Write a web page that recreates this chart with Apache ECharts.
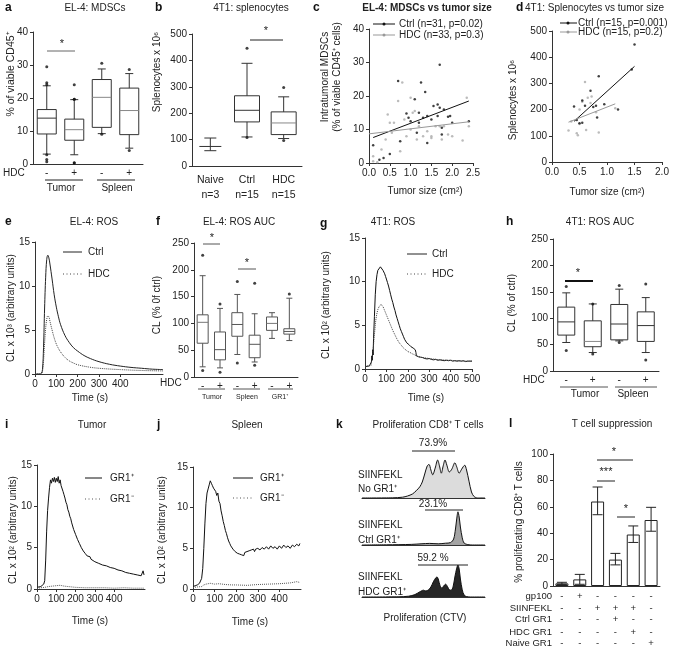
<!DOCTYPE html>
<html>
<head>
<meta charset="utf-8">
<title>Figure</title>
<script src="https://cdn.jsdelivr.net/npm/echarts@6.0.0/dist/echarts.min.js"></script>
<style>
html,body{margin:0;padding:0;background:#fff;}
#chart{width:685px;height:651px;}
</style>
</head>
<body>
<div id="chart"></div>
<script>
// ================= DATA =================
// a: EL-4 MDSCs  [min, Q1, median, Q3, max]
const aCategories = ['-', '+', '-', '+'];
const aBoxes = [[3.0, 9.1, 13.9, 16.5, 23.7], [2.8, 7.2, 10.4, 13.6, 19.5], [9.2, 11.1, 20.2, 25.6, 28.8], [4.8, 8.9, 16.2, 23.0, 27.4]];
const aOutliers = [[0, 29.5], [0, 24.6], [0, 24.0], [0, 2.8], [0, 1.4], [0, 0.7], [1, 24.0], [1, 19.6], [1, 19.6], [1, 0.4], [1, 0.3], [2, 30.5], [2, 9.0], [3, 28.6], [3, 4.1]];

// b: 4T1 splenocytes
const bCategories = ['Naive\nn=3', 'Ctrl\nn=15', 'HDC\nn=15'];
const bBoxes = [[58, 74, 74, 74, 106], [110, 167, 211, 266, 389], [104, 119, 163, 205, 262]];
const bOutliers = [[1, 446], [1, 108], [2, 297], [2, 97]];

// c: EL-4 MDSCs vs tumor size
const cCtrl = [[0.1, 5.3], [0.25, 1.0], [0.35, 1.5], [0.5, 2.7], [0.7, 24.5], [0.75, 6.5], [0.9, 14.8], [0.95, 13.5], [1.0, 12.5], [1.1, 19], [1.15, 9], [1.2, 12], [1.25, 24], [1.3, 13.5], [1.35, 21.2], [1.4, 6], [1.4, 14], [1.5, 13], [1.55, 17], [1.65, 17.5], [1.65, 14], [1.7, 29.3], [1.7, 16.5], [1.75, 10.5], [1.75, 8.5], [1.8, 16], [1.9, 13.8], [1.95, 14], [2.0, 12], [2.4, 12.5], [1.2, 15]];
const cHdc = [[0.1, 2], [0.1, 0.5], [0.2, 0.2], [0.3, 4], [0.45, 14.5], [0.5, 12], [0.55, 9], [0.6, 12], [0.7, 18.5], [0.75, 3.5], [0.8, 24], [0.85, 13], [0.9, 8], [1.0, 19.5], [1.0, 10], [1.05, 15], [1.15, 7], [1.2, 11], [1.3, 8], [1.4, 9.5], [1.5, 7.5], [1.5, 8], [1.6, 11], [1.7, 11], [1.75, 7], [1.8, 11], [1.9, 8.5], [2.0, 8], [2.25, 6.7], [2.35, 19.5], [2.4, 11], [0.4, 7], [1.1, 15.5]];
const cCtrlFit = [[0.1, 7.6], [2.4, 18.5]];
const cHdcFit = [[0.0, 8.7], [2.4, 12.3]];

// d: 4T1 splenocytes vs tumor size
const dCtrl = [[0.4, 212], [0.45, 160], [0.5, 148], [0.55, 235], [0.55, 150], [0.6, 215], [0.7, 272], [0.75, 210], [0.8, 215], [0.85, 327], [0.82, 170], [0.95, 220], [1.2, 200], [1.45, 353], [1.5, 448]];
const dHdc = [[0.3, 120], [0.35, 155], [0.45, 110], [0.47, 102], [0.5, 200], [0.55, 230], [0.6, 305], [0.62, 122], [0.65, 245], [0.7, 225], [0.8, 190], [0.85, 113], [1.15, 205], [0.5, 145], [0.72, 250]];
const dCtrlFit = [[0.4, 155], [1.5, 365]];
const dHdcFit = [[0.3, 152], [1.15, 222]];

// e: EL-4 ROS (CL x 10^3)
const eCtrl = [[0, 0], [20, 0], [30, 0.1], [35, 0.5], [40, 3], [45, 7.5], [50, 11], [55, 13], [60, 13.5], [65, 13.2], [70, 12.5], [80, 10.8], [90, 9], [100, 7.6], [110, 6.5], [120, 5.6], [140, 4.4], [160, 3.6], [180, 3.0], [200, 2.6], [230, 2.1], [260, 1.75], [300, 1.4], [350, 1.1], [400, 0.9], [450, 0.75], [500, 0.65], [550, 0.55], [600, 0.5]];
const eHdc = [[0, 0], [30, 0], [35, 0.3], [40, 1.5], [45, 3.5], [50, 5.2], [55, 6.2], [60, 6.6], [65, 6.5], [70, 6.0], [80, 5.0], [90, 4.1], [100, 3.4], [110, 2.9], [120, 2.5], [140, 1.9], [160, 1.5], [180, 1.25], [200, 1.05], [250, 0.8], [300, 0.65], [400, 0.5], [500, 0.4], [600, 0.35]];

// f: EL-4 ROS AUC
const fCategories = ['-', '+', '-', '+', '-', '+'];
const fBoxes = [[19, 63, 102, 116, 189], [17, 32, 51, 84, 128], [42, 76, 98, 120, 154], [28, 36, 61, 78, 118], [72, 87, 100, 112, 120], [68, 80, 85, 90, 147]];
const fOutliers = [[0, 227], [0, 12], [1, 136], [1, 9], [2, 178], [2, 26], [3, 175], [3, 22], [5, 155]];

// g: 4T1 ROS (CL x 10^2)
const gCtrl = [[0, 0.3], [10, 0.3], [20, 0.35], [28, 0.4], [30, 0.8], [32, 1.5], [34, 1.0], [36, 2.2], [38, 1.6], [40, 3.5], [44, 6], [48, 8.5], [52, 10], [56, 10.8], [60, 11.3], [64, 11.5], [68, 11.4], [72, 11.7], [76, 11.5], [80, 11.6], [84, 11.3], [88, 11.2], [92, 10.9], [96, 10.6], [100, 10.3], [105, 9.9], [110, 9.5], [115, 9.0], [120, 8.5], [125, 8.0], [130, 7.6], [135, 7.1], [140, 6.7], [145, 6.2], [150, 5.8], [155, 5.4], [160, 5.0], [165, 4.6], [170, 4.3], [175, 4.0], [180, 3.7], [185, 3.4], [190, 3.2], [195, 3.0], [200, 2.9], [205, 2.8], [210, 2.7], [215, 2.55], [220, 2.5], [225, 2.4], [230, 2.3], [235, 2.2], [238, 1.9], [240, 1.5], [245, 1.45], [250, 1.4], [260, 1.35], [270, 1.3], [280, 1.2], [290, 1.15], [300, 1.2], [310, 1.1], [320, 1.05], [330, 1.1], [340, 1.0], [350, 1.05], [360, 1.0], [370, 0.95], [380, 1.0], [390, 0.95], [400, 1.0], [410, 0.9], [420, 0.95], [430, 0.9], [440, 0.95], [450, 0.9], [460, 0.95], [470, 0.85], [480, 0.9], [490, 0.9], [500, 0.9]];
const gHdc = [[0, 0.3], [28, 0.4], [32, 1.2], [36, 1.8], [40, 2.8], [45, 4.2], [50, 5.5], [55, 6.3], [60, 6.8], [65, 7.1], [70, 7.3], [75, 7.4], [80, 7.3], [85, 7.1], [90, 6.8], [100, 6.2], [110, 5.6], [120, 5.0], [130, 4.4], [140, 3.9], [150, 3.4], [160, 3.0], [170, 2.7], [180, 2.4], [190, 2.2], [200, 2.0], [210, 1.9], [220, 1.75], [230, 1.65], [240, 1.5], [260, 1.35], [300, 1.2], [350, 1.05], [400, 1.0], [450, 0.9], [500, 0.9]];

// h: 4T1 ROS AUC
const hCategories = ['-', '+', '-', '+'];
const hBoxes = [[54, 68, 93, 121, 148], [35, 46, 56, 95, 127], [57, 59, 89, 126, 155], [35, 56, 86, 112, 139]];
const hOutliers = [[0, 160], [0, 39], [1, 127], [1, 32], [2, 162], [2, 54], [3, 165], [3, 21]];

// i: Tumor GR1+/GR1- (CL x 10^2)
const iGr1Pos = [[0, 0.2], [10, 0.3], [20, 0.3], [30, 0.4], [35, 0.6], [40, 1.0], [45, 3.5], [50, 7], [55, 9.5], [60, 11], [65, 12.3], [70, 13.2], [75, 12.8], [80, 13.4], [85, 13.0], [90, 13.5], [95, 12.9], [100, 13.4], [105, 13.0], [110, 13.6], [115, 12.8], [120, 13.2], [125, 12.5], [130, 12.3], [135, 11.8], [140, 11.4], [145, 11.0], [150, 10.5], [155, 10.2], [160, 9.6], [165, 9.3], [170, 8.8], [175, 8.5], [180, 8.0], [185, 7.8], [190, 7.2], [195, 7.0], [200, 6.6], [205, 6.4], [210, 6.0], [215, 5.9], [220, 5.5], [225, 5.4], [230, 5.0], [235, 5.0], [240, 4.6], [245, 4.6], [250, 4.3], [255, 4.3], [260, 4.0], [265, 4.1], [270, 3.8], [275, 3.9], [280, 3.6], [290, 3.6], [300, 3.3], [310, 3.4], [320, 3.1], [330, 3.2], [340, 2.9], [350, 3.0], [360, 2.8], [370, 2.9], [380, 2.6], [390, 2.7], [400, 2.5], [410, 2.5], [420, 2.3], [430, 2.4], [440, 2.2], [450, 2.2], [460, 2.0], [470, 2.1], [480, 1.9], [490, 2.0], [500, 1.8], [510, 1.9], [520, 1.7], [530, 1.8], [540, 1.6], [550, 2.2], [555, 1.7]];
const iGr1Neg = [[0, 0.1], [20, 0.15], [40, 0.2], [60, 0.3], [80, 0.35], [100, 0.4], [120, 0.45], [140, 0.35], [160, 0.3], [200, 0.2], [250, 0.15], [300, 0.15], [350, 0.15], [400, 0.1], [450, 0.15], [500, 0.1], [555, 0.1]];

// j: Spleen GR1+/GR1- (CL x 10^2)
const jGr1Pos = [[0, 0.3], [10, 0.4], [20, 0.5], [30, 0.7], [35, 0.9], [40, 1.3], [45, 2.5], [50, 5], [55, 8], [60, 10.5], [65, 11.8], [70, 12.3], [75, 12.8], [80, 13.3], [85, 13.0], [90, 12.7], [95, 12.4], [100, 12.6], [105, 12.0], [110, 11.5], [115, 11.8], [120, 10.8], [125, 10.5], [130, 9.6], [135, 9.0], [140, 8.3], [145, 7.8], [150, 7.2], [155, 6.8], [160, 6.3], [165, 5.9], [170, 5.6], [175, 5.3], [180, 5.1], [185, 4.9], [190, 4.8], [195, 4.6], [200, 4.7], [205, 4.4], [210, 4.5], [215, 4.3], [220, 4.4], [225, 4.2], [230, 4.4], [235, 4.1], [240, 4.5], [245, 4.3], [250, 4.6], [255, 4.4], [260, 4.7], [265, 4.5], [270, 4.8], [275, 4.6], [280, 4.9], [285, 4.6], [290, 4.9], [295, 4.7], [300, 5.0], [310, 4.8], [320, 5.1], [330, 4.9], [340, 5.2], [350, 4.9], [360, 5.3], [370, 5.0], [380, 5.2], [390, 4.9], [400, 5.3], [410, 5.0], [420, 5.4], [430, 5.1], [440, 5.3], [450, 5.0], [460, 5.4], [470, 5.2], [480, 5.5], [490, 5.3], [495, 5.6]];
const jGr1Neg = [[0, 0.2], [20, 0.25], [40, 0.3], [50, 0.5], [60, 0.6], [80, 0.7], [100, 0.6], [120, 0.65], [150, 0.55], [180, 0.5], [200, 0.5], [250, 0.45], [300, 0.55], [350, 0.6], [400, 0.65], [450, 0.75], [480, 0.9], [495, 0.8]];

// k: CTV proliferation histograms (relative counts)
const kNoGr1 = [[0, 0], [25, 0.5], [33, 2], [37, 5], [41, 10], [44, 18], [47, 28], [49, 40], [51, 60], [53, 80], [54.5, 84], [56, 70], [57.5, 58], [59.5, 75], [61.5, 95], [63, 80], [64.5, 62], [66, 80], [67.5, 95], [69, 82], [71, 65], [73, 72], [75.5, 88], [77, 78], [79, 62], [81, 72], [83.5, 82], [85, 70], [87, 42], [89, 15], [91, 4], [94, 0], [100, 0]];
const kCtrlGr1 = [[0, 0], [20, 0.5], [40, 1.5], [48, 3], [55, 4], [62, 3], [68, 4.5], [72, 6], [74.5, 15], [76, 40], [77, 65], [78, 83], [79, 70], [80, 45], [81.5, 18], [83, 5], [86, 1], [90, 0], [100, 0]];
const kHdcGr1 = [[0, 0], [30, 0.5], [38, 2], [43, 6], [47, 13], [50, 17], [52, 15], [54, 18], [56, 25], [58, 38], [60, 48], [61, 50], [62, 45], [63.5, 28], [65, 22], [66.5, 28], [68, 32], [69.5, 26], [71, 18], [72.5, 17], [74, 25], [75.5, 50], [77, 72], [78, 80], [79, 70], [80, 45], [81.5, 18], [83, 5], [85, 1], [88, 0], [100, 0]];
const kPercents = ['73.9%', '23.1%', '59.2 %'];

// l: T cell suppression
const lMeans = [2, 5, 64, 20, 39, 50];
const lLow = [1.2, 1.3, 54, 16, 33, 41.5];
const lHigh = [2.8, 8.8, 75, 24.7, 45.5, 59.6];
const lGp100 = ['-', '+', '-', '-', '-', '-'];
const lSiinfekl = ['-', '-', '+', '+', '+', '-'];
const lCtrlGr1 = ['-', '-', '-', '+', '-', '-'];
const lHdcGr1 = ['-', '-', '-', '-', '+', '-'];
const lNaiveGr1 = ['-', '-', '-', '-', '-', '+'];

// ================= STYLE HELPERS =================
const FONT = "'Liberation Sans', Arial, Helvetica, sans-serif";
const TXT = '#222';
const AX = '#333';

const grids = [
  [33, 32, 110, 132],   // 0 a
  [192, 34, 110, 132],  // 1 b
  [369, 29, 104, 134],  // 2 c
  [552, 31, 110, 131],  // 3 d
  [35, 242, 128, 132],  // 4 e
  [194, 243, 104, 134], // 5 f
  [365, 238, 107, 131], // 6 g
  [553, 239, 106, 132], // 7 h
  [37, 465, 108, 124],  // 8 i
  [193, 467, 108, 122], // 9 j
  [362, 458, 123, 40],  // 10 k1
  [362, 505, 123, 40],  // 11 k2
  [362, 557, 123, 40],  // 12 k3
  [553, 454, 107, 132]  // 13 l
].map(g => ({left: g[0], top: g[1], width: g[2], height: g[3], outerBoundsMode: 'none', containLabel: false}));

function axLine(show) { return {show: show, lineStyle: {color: AX, width: 1}}; }
function vAxis(gi, min, max, interval, extra) {
  return Object.assign({
    gridIndex: gi, type: 'value', min: min, max: max, interval: interval,
    axisLine: axLine(true),
    axisTick: {show: true, length: 3, lineStyle: {color: AX}},
    axisLabel: {color: TXT, fontSize: 10, fontFamily: FONT, margin: 5},
    splitLine: {show: false}
  }, extra || {});
}
function catAxis(gi, data, extra) {
  return Object.assign({
    gridIndex: gi, type: 'category', data: data, boundaryGap: true,
    axisLine: axLine(true),
    axisTick: {show: false},
    axisLabel: {color: TXT, fontSize: 10, fontFamily: FONT, margin: 4, interval: 0},
    splitLine: {show: false}
  }, extra || {});
}

function boxSeries(axisIdx, boxes, opt) {
  return {
    type: 'custom', xAxisIndex: axisIdx, yAxisIndex: axisIdx,
    data: boxes.map((b, i) => [i].concat(b)),
    encode: {x: 0, y: [1, 2, 3, 4, 5]},
    z: 3,
    renderItem: function (params, api) {
      const i = api.value(0);
      const p = k => api.coord([i, api.value(k)]);
      const pmin = p(1), pq1 = p(2), pmed = p(3), pq3 = p(4), pmax = p(5);
      const x = pmin[0], w = opt.w, cw = opt.cw;
      const col = opt.color;
      const mc = opt.med[params.dataIndex];
      const st = {stroke: col, lineWidth: 1, fill: null};
      const bw = (opt.wList ? opt.wList[params.dataIndex] : w);
      const cwi = (opt.cwList ? opt.cwList[params.dataIndex] : cw);
      const children = [
        {type: 'line', shape: {x1: x, y1: pq3[1], x2: x, y2: pmax[1]}, style: st},
        {type: 'line', shape: {x1: x, y1: pq1[1], x2: x, y2: pmin[1]}, style: st},
        {type: 'line', shape: {x1: x - cwi / 2, y1: pmax[1], x2: x + cwi / 2, y2: pmax[1]}, style: st},
        {type: 'line', shape: {x1: x - cwi / 2, y1: pmin[1], x2: x + cwi / 2, y2: pmin[1]}, style: st}
      ];
      if (pq1[1] - pq3[1] > 0.5) {
        children.unshift({type: 'rect', shape: {x: x - bw / 2, y: pq3[1], width: bw, height: pq1[1] - pq3[1]}, style: {stroke: col, fill: '#fff', lineWidth: 1}});
      }
      children.push({type: 'line', shape: {x1: x - bw / 2, y1: pmed[1], x2: x + bw / 2, y2: pmed[1]}, style: {stroke: mc, lineWidth: 1}});
      return {type: 'group', children: children};
    }
  };
}
function outlierSeries(axisIdx, pts) {
  return {type: 'scatter', xAxisIndex: axisIdx, yAxisIndex: axisIdx, data: pts, symbol: 'circle', symbolSize: 3, itemStyle: {color: '#111'}, z: 4, silent: true};
}
function curve(axisIdx, data, color, type, smooth) {
  return {type: 'line', xAxisIndex: axisIdx, yAxisIndex: axisIdx, data: data, showSymbol: false, smooth: smooth || false,
    lineStyle: {color: color, width: 1, type: type || 'solid'}, silent: true, animation: false};
}
function pts(axisIdx, data, color, size) {
  return {type: 'scatter', xAxisIndex: axisIdx, yAxisIndex: axisIdx, data: data, symbol: 'circle', symbolSize: size, itemStyle: {color: color}, silent: true};
}
function hist(axisIdx, data, fill) {
  return {type: 'line', xAxisIndex: axisIdx, yAxisIndex: axisIdx, data: data, showSymbol: false, smooth: 0.3,
    lineStyle: {color: '#111', width: 1}, areaStyle: {color: fill, opacity: 1}, silent: true};
}

// ---------- graphic helpers ----------
function T(text, x, y, o) {
  o = o || {};
  return {type: 'text', x: x, y: y, rotation: o.rot || 0, silent: true, z: 10,
    style: {text: text, fill: o.color || TXT, font: (o.bold ? 'bold ' : '') + (o.size || 10) + 'px ' + FONT,
      align: o.align || 'center', verticalAlign: o.va || 'middle', textAlign: o.align || 'center', textVerticalAlign: o.va || 'middle'}};
}
function L(x1, y1, x2, y2, o) {
  o = o || {};
  return {type: 'line', silent: true, z: 10, shape: {x1: x1, y1: y1, x2: x2, y2: y2},
    style: {stroke: o.color || '#222', lineWidth: o.w || 1, lineDash: o.dash || null}};
}
function C(x, y, r, color) {
  return {type: 'circle', silent: true, z: 11, shape: {cx: x, cy: y, r: r}, style: {fill: color}};
}
const R90 = Math.PI / 2;

// ================= AXES =================
const xAxes = [
  catAxis(0, aCategories),
  catAxis(1, bCategories, {axisLabel: {color: TXT, fontSize: 10.5, fontFamily: FONT, margin: 7, interval: 0, lineHeight: 15}}),
  vAxis(2, 0, 2.5, 0.5, {axisLabel: {color: TXT, fontSize: 10, fontFamily: FONT, margin: 5, formatter: v => v.toFixed(1)}}),
  vAxis(3, 0, 2.0, 0.5, {axisLabel: {color: TXT, fontSize: 10, fontFamily: FONT, margin: 5, formatter: v => v.toFixed(1)}}),
  vAxis(4, 0, 600, 100, {axisTick: {show: true, length: 3, lineStyle: {color: AX}, customValues: [0, 100, 200, 300, 400]},
    axisLabel: {color: TXT, fontSize: 10, fontFamily: FONT, margin: 5, customValues: [0, 100, 200, 300, 400]}}),
  catAxis(5, fCategories),
  vAxis(6, 0, 500, 100),
  catAxis(7, hCategories),
  vAxis(8, 0, 560, 100, {axisTick: {show: true, length: 3, lineStyle: {color: AX}, customValues: [0, 100, 200, 300, 400]},
    axisLabel: {color: TXT, fontSize: 10, fontFamily: FONT, margin: 5, customValues: [0, 100, 200, 300, 400]}}),
  vAxis(9, 0, 500, 100, {axisTick: {show: true, length: 3, lineStyle: {color: AX}, customValues: [0, 100, 200, 300, 400]},
    axisLabel: {color: TXT, fontSize: 10, fontFamily: FONT, margin: 5, customValues: [0, 100, 200, 300, 400]}}),
  vAxis(10, 0, 100, 50, {axisTick: {show: false}, axisLabel: {show: false}}),
  vAxis(11, 0, 100, 50, {axisTick: {show: false}, axisLabel: {show: false}}),
  vAxis(12, 0, 100, 50, {axisTick: {show: false}, axisLabel: {show: false}}),
  catAxis(13, lGp100, {axisLabel: {show: false}})
];
const lRowNames = ['gp100', 'SIINFEKL', 'Ctrl GR1', 'HDC GR1', 'Naive GR1'];
const lRows = [lGp100, lSiinfekl, lCtrlGr1, lHdcGr1, lNaiveGr1];
const lOffsets = [10, 22, 33, 46, 57];
lRows.forEach((row, r) => {
  xAxes.push({
    gridIndex: 13, type: 'category', data: row, position: 'bottom', offset: lOffsets[r], boundaryGap: true,
    axisLine: {show: false}, axisTick: {show: false},
    axisLabel: {color: TXT, fontSize: 9.5, fontFamily: FONT, margin: 0, interval: 0, verticalAlign: 'middle'},
    name: lRowNames[r], nameLocation: 'start', nameGap: 1,
    nameTextStyle: {color: TXT, fontSize: 9.5, fontFamily: FONT, align: 'right', verticalAlign: 'middle'}
  });
});

const yAxes = [
  vAxis(0, 0, 40, 10),
  vAxis(1, 0, 500, 100),
  vAxis(2, 0, 40, 10),
  vAxis(3, 0, 500, 100),
  vAxis(4, 0, 15, 5),
  vAxis(5, 0, 250, 50),
  vAxis(6, 0, 15, 5),
  vAxis(7, 0, 250, 50),
  vAxis(8, 0, 15, 5),
  vAxis(9, 0, 15, 5),
  vAxis(10, 0, 100, 50, {show: false}),
  vAxis(11, 0, 100, 50, {show: false}),
  vAxis(12, 0, 100, 50, {show: false}),
  vAxis(13, 0, 100, 20)
];

// ================= SERIES =================
const series = [
  boxSeries(0, aBoxes, {w: 19, cw: 8, color: '#333', med: ['#333', '#888', '#888', '#888']}),
  outlierSeries(0, aOutliers),
  boxSeries(1, bBoxes, {w: 25, cw: 11, color: '#333', med: ['#333', '#333', '#888'], wList: [22, 25, 25], cwList: [12, 11, 11]}),
  outlierSeries(1, bOutliers),
  pts(2, cHdc, '#aaa', 2.5), pts(2, cCtrl, '#111', 2.5),
  curve(2, cCtrlFit, '#111'), curve(2, cHdcFit, '#999'),
  pts(3, dHdc, '#aaa', 2.5), pts(3, dCtrl, '#111', 2.5),
  curve(3, dCtrlFit, '#111'), curve(3, dHdcFit, '#999'),
  curve(4, eCtrl, '#222', 'solid', 0.4), curve(4, eHdc, '#444', 'dotted', 0.4),
  boxSeries(5, fBoxes, {w: 11, cw: 6, color: '#555', med: ['#777', '#555', '#555', '#555', '#777', '#555']}),
  outlierSeries(5, fOutliers),
  curve(6, gCtrl, '#111'), curve(6, gHdc, '#444', 'dotted'),
  boxSeries(7, hBoxes, {w: 17, cw: 8, color: '#333', med: ['#333', '#888', '#333', '#333']}),
  outlierSeries(7, hOutliers),
  curve(8, iGr1Pos, '#111'), curve(8, iGr1Neg, '#555', 'dotted'),
  curve(9, jGr1Pos, '#111'), curve(9, jGr1Neg, '#555', 'dotted'),
  hist(10, kNoGr1, '#dcdcdc'), hist(11, kCtrlGr1, '#a4a4a4'), hist(12, kHdcGr1, '#262626'),
  {type: 'bar', xAxisIndex: 13, yAxisIndex: 13, data: lMeans, barWidth: 13,
    itemStyle: {color: '#fff', borderColor: '#222', borderWidth: 1}, silent: true},
  {type: 'custom', xAxisIndex: 13, yAxisIndex: 13, z: 5,
    data: lMeans.map((m, i) => [i, lLow[i], lHigh[i]]),
    encode: {x: 0, y: [1, 2]},
    renderItem: function (params, api) {
      const i = api.value(0);
      const lo = api.coord([i, api.value(1)]), hi = api.coord([i, api.value(2)]);
      const cw = 10, st = {stroke: '#222', lineWidth: 1};
      return {type: 'group', children: [
        {type: 'line', shape: {x1: lo[0], y1: lo[1], x2: hi[0], y2: hi[1]}, style: st},
        {type: 'line', shape: {x1: lo[0] - cw / 2, y1: lo[1], x2: lo[0] + cw / 2, y2: lo[1]}, style: st},
        {type: 'line', shape: {x1: hi[0] - cw / 2, y1: hi[1], x2: hi[0] + cw / 2, y2: hi[1]}, style: st}
      ]};
    }}
];

// ================= TEXT / ANNOTATIONS =================
const g = [];
// panel letters
[['a', 5, 8], ['b', 155, 8], ['c', 313, 8], ['d', 516, 8], ['e', 5, 222], ['f', 156, 222], ['g', 320, 224], ['h', 506, 222], ['i', 5, 425], ['j', 157, 425], ['k', 336, 425], ['l', 509, 424]]
  .forEach(p => g.push(T(p[0], p[1], p[2], {bold: true, size: 12, align: 'left', color: '#111'})));
// titles
g.push(T('EL-4: MDSCs', 95, 8));
g.push(T('4T1: splenocytes', 251, 8));
g.push(T('EL-4: MDSCs vs tumor size', 427, 8, {bold: true}));
g.push(T('4T1: Splenocytes vs tumor size', 525, 8, {align: 'left'}));
g.push(T('EL-4: ROS', 94, 222));
g.push(T('EL-4: ROS AUC', 239, 222));
g.push(T('4T1: ROS', 393, 222));
g.push(T('4T1: ROS AUC', 600, 222));
g.push(T('Tumor', 92, 425));
g.push(T('Spleen', 247, 425));
g.push(T('Proliferation CD8\u207A T cells', 428, 425));
g.push(T('T cell suppression', 612, 424));
// y axis names
g.push(T('% of viable CD45\u207A', 11, 74, {rot: R90, size: 10.5}));
g.push(T('Splenocytes x 10\u2076', 157, 72, {rot: R90, size: 10}));
g.push(T('Intratumoral MDSCs', 325, 77, {rot: R90, size: 10}));
g.push(T('(% of viable CD45\u207A cells)', 337, 77, {rot: R90, size: 10}));
g.push(T('Splenocytes x 10\u2076', 513, 100, {rot: R90, size: 10}));
g.push(T('CL x 10\u00B3 (arbitrary units)', 11, 308, {rot: R90, size: 10}));
g.push(T('CL (% 0f ctrl)', 157, 305, {rot: R90, size: 10}));
g.push(T('CL x 10\u00B2 (arbitrary units)', 326, 305, {rot: R90, size: 10}));
g.push(T('CL (% of ctrl)', 512, 303, {rot: R90, size: 10}));
g.push(T('CL x 10\u00B2 (arbitrary units)', 13, 530, {rot: R90, size: 10}));
g.push(T('CL x 10\u00B2 (arbitrary units)', 162, 530, {rot: R90, size: 10}));
g.push(T('% proliferating CD8\u207A T cells', 519, 522, {rot: R90, size: 10}));
// x axis names
g.push(T('Tumor size (cm\u00B2)', 425, 191));
g.push(T('Tumor size (cm\u00B2)', 607, 192));
g.push(T('Time (s)', 90, 398));
g.push(T('Time (s)', 426, 398));
g.push(T('Time (s)', 90, 621));
g.push(T('Time (s)', 250, 622));
// a: groups + significance
g.push(T('HDC', 3, 173, {align: 'left'}));
g.push(L(45, 180, 83, 180)); g.push(L(97, 180, 135, 180));
g.push(T('Tumor', 61, 188)); g.push(T('Spleen', 117, 188));
g.push(L(47, 51, 75, 51, {color: '#666'})); g.push(T('*', 62, 44, {size: 11}));
// b significance
g.push(L(250, 40, 283, 40)); g.push(T('*', 266, 31, {size: 11}));
// c legend
g.push(L(373, 24, 395, 24, {color: '#111'})); g.push(C(384, 24, 1.5, '#111'));
g.push(T('Ctrl (n=31, p=0.02)', 399, 24, {align: 'left'}));
g.push(L(373, 35, 395, 35, {color: '#999'})); g.push(C(384, 35, 1.5, '#999'));
g.push(T('HDC (n=33, p=0.3)', 399, 35, {align: 'left'}));
// d legend
g.push(L(560, 23, 577, 23, {color: '#111'})); g.push(C(568, 23, 1.5, '#111'));
g.push(T('Ctrl (n=15, p=0.001)', 578, 23, {align: 'left'}));
g.push(L(560, 32, 577, 32, {color: '#999'})); g.push(C(568, 32, 1.5, '#999'));
g.push(T('HDC (n=15, p=0.2)', 578, 32, {align: 'left'}));
// e legend
g.push(L(63, 252, 82, 252, {color: '#222'})); g.push(T('Ctrl', 88, 252, {align: 'left'}));
g.push(L(63, 274, 82, 274, {color: '#444', dash: [1, 2.5]})); g.push(T('HDC', 88, 274, {align: 'left'}));
// f groups + significance
g.push(T('HDC', 160, 383, {align: 'left'}));
g.push(L(198, 389, 225, 389, {color: '#555'})); g.push(L(233, 389, 260, 389, {color: '#555'})); g.push(L(268, 389, 293, 389, {color: '#555'}));
g.push(T('Tumor', 212, 397, {size: 7})); g.push(T('Spleen', 247, 397, {size: 7})); g.push(T('GR1\u207A', 280, 397, {size: 7}));
g.push(L(203, 244, 220, 244, {color: '#555'})); g.push(T('*', 212, 238, {size: 11}));
g.push(L(238, 269, 256, 269, {color: '#555'})); g.push(T('*', 247, 263, {size: 11}));
// g legend
g.push(L(407, 254, 427, 254, {color: '#222'})); g.push(T('Ctrl', 432, 254, {align: 'left'}));
g.push(L(407, 274, 427, 274, {color: '#444', dash: [1, 2.5]})); g.push(T('HDC', 432, 274, {align: 'left'}));
// h groups + significance
g.push(T('HDC', 523, 380, {align: 'left'}));
g.push(L(560, 387, 608, 387, {color: '#555'})); g.push(L(615, 387, 657, 387, {color: '#555'}));
g.push(T('Tumor', 585, 394)); g.push(T('Spleen', 633, 394));
g.push(L(565, 281, 593, 281, {color: '#111', w: 2})); g.push(T('*', 578, 273, {size: 11}));
// i legend
g.push(L(85, 478, 102, 478, {color: '#111'})); g.push(T('GR1\u207A', 110, 478, {align: 'left'}));
g.push(L(85, 499, 102, 499, {color: '#555', dash: [1, 2.5]})); g.push(T('GR1\u207B', 110, 499, {align: 'left'}));
// j legend
g.push(L(233, 478, 253, 478, {color: '#111'})); g.push(T('GR1\u207A', 260, 478, {align: 'left'}));
g.push(L(233, 498, 253, 498, {color: '#555', dash: [1, 2.5]})); g.push(T('GR1\u207B', 260, 498, {align: 'left'}));
// k labels
g.push(T(kPercents[0], 433, 443)); g.push(L(412, 451, 455, 451));
g.push(T(kPercents[1], 433, 504)); g.push(L(425, 510, 463, 510));
g.push(T(kPercents[2], 433, 558)); g.push(L(418, 565, 468, 565));
g.push(T('SIINFEKL', 358, 475, {align: 'left'})); g.push(T('No GR1\u207A', 358, 489, {align: 'left'}));
g.push(T('SIINFEKL', 358, 525, {align: 'left'})); g.push(T('Ctrl GR1\u207A', 358, 540, {align: 'left'}));
g.push(T('SIINFEKL', 358, 577, {align: 'left'})); g.push(T('HDC GR1\u207A', 358, 592, {align: 'left'}));
g.push(T('Proliferation (CTV)', 425, 618));
// l significance
g.push(L(597, 460, 633, 460)); g.push(T('*', 614, 452, {size: 11}));
g.push(L(597, 481, 615, 481)); g.push(T('***', 606, 472, {size: 11}));
g.push(L(617, 517, 635, 517)); g.push(T('*', 626, 509, {size: 11}));

const option = {
  backgroundColor: '#fff',
  animation: false,
  textStyle: {fontFamily: FONT},
  grid: grids,
  xAxis: xAxes,
  yAxis: yAxes,
  series: series,
  graphic: g
};

const chart = echarts.init(document.getElementById('chart'), null, {renderer: 'canvas'});
chart.setOption(option);
</script>
</body>
</html>
